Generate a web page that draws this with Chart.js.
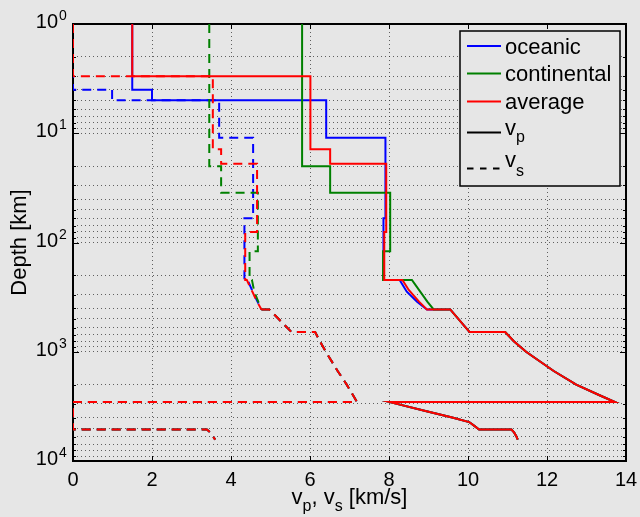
<!DOCTYPE html>
<html>
<head>
<meta charset="utf-8">
<script src="https://cdn.jsdelivr.net/npm/chart.js@4.4.1/dist/chart.umd.min.js"></script>
<style>
  html, body { margin: 0; padding: 0; background: #e6e6e6; }
  canvas { display: block; }
</style>
</head>
<body>
<canvas id="profile" width="640" height="517"></canvas>
<script>
// depth in km, velocities in km/s
const oceanicDepth = [1, 4, 4, 5, 5, 11, 11, 60, 60, 220, 220, 282, 348, 410];
const oceanicVp = [1.5, 1.5, 2.0, 2.0, 6.41, 6.41, 7.91, 7.91, 7.86, 7.86, 8.27, 8.45, 8.71, 8.96];
const oceanicVs = [0, 0, 0.99, 0.99, 3.70, 3.70, 4.56, 4.56, 4.34, 4.34, 4.42, 4.55, 4.67, 4.77];

const continentalDepth = [1, 20, 20, 35, 35, 120, 120, 220, 220, 282, 348, 410];
const continentalVp = [5.80, 5.80, 6.51, 6.51, 8.03, 8.03, 7.85, 7.85, 8.58, 8.79, 8.97, 9.13];
const continentalVs = [3.45, 3.45, 3.75, 3.75, 4.68, 4.68, 4.47, 4.47, 4.53, 4.59, 4.69, 4.77];

const averageDepth = [1, 3, 3, 14, 14, 19, 19, 80, 80, 220, 220, 272, 348, 410];
const averageVp = [1.5, 1.5, 6.01, 6.01, 6.51, 6.51, 7.93, 7.93, 7.88, 7.88, 8.34, 8.50, 8.76, 8.96];
const averageVs = [0, 0, 3.54, 3.54, 3.75, 3.75, 4.66, 4.66, 4.36, 4.36, 4.40, 4.52, 4.66, 4.77];

// shared below 410 km (mantle + core)
const deepDepth = [410, 660, 660, 800, 1000, 1500, 2000, 2500, 2891, 2891, 3000, 3500, 4000, 4400, 4800, 5150, 5150, 5500, 6000, 6371];
const deepVp = [9.55, 10.04, 10.94, 11.16, 11.47, 12.17, 12.74, 13.33, 13.72, 8.02, 8.20, 8.95, 9.60, 10.03, 10.17, 10.28, 11.10, 11.17, 11.23, 11.26];
const deepVs = [4.97, 5.53, 6.13, 6.25, 6.40, 6.70, 6.93, 7.09, 7.19, 0, 0, 0, 0, 0, 0, 0, 3.39, 3.48, 3.55, 3.60];

const modelNames = ["oceanic", "continental", "average"];
const modelColors = ["#0000ff", "#008000", "#ff0000"];

const xTicks = [0, 2, 4, 6, 8, 10, 12, 14];
const yMajor = [1, 10, 100, 1000, 10000];
const yExponents = ["0", "1", "2", "3", "4"];
const yMinorSteps = [2, 3, 4, 5, 6, 7, 8, 9];

const yGrid = [];
yMajor.forEach((m, i) => {
  yGrid.push(m);
  if (i < yMajor.length - 1) yMinorSteps.forEach(s => yGrid.push(m * s));
});

const FONT = '"Liberation Sans", Arial, Helvetica, sans-serif';
const DASH = [9, 6];

function profile(depths, speeds) {
  return depths.map((d, i) => ({x: speeds[i], y: d}));
}

const models = [
  {depth: oceanicDepth, vp: oceanicVp, vs: oceanicVs},
  {depth: continentalDepth, vp: continentalVp, vs: continentalVs},
  {depth: averageDepth, vp: averageVp, vs: averageVs}
];

const datasets = [];
models.forEach((m, i) => {
  const last = m.depth.length - 1;
  datasets.push({
    label: modelNames[i] + " vp",
    data: profile(m.depth.concat(deepDepth), m.vp.concat(deepVp)),
    borderColor: modelColors[i],
    order: 2 - i
  });
  // vs split at 410 km so the shared deep part has the same dash phase for all models
  datasets.push({
    label: modelNames[i] + " vs",
    data: profile(m.depth, m.vs),
    borderColor: modelColors[i],
    borderDash: DASH,
    order: 2 - i
  });
  datasets.push({
    label: modelNames[i] + " vs deep",
    data: profile([m.depth[last]].concat(deepDepth), [m.vs[last]].concat(deepVs)),
    borderColor: modelColors[i],
    borderDash: DASH,
    order: 2 - i
  });
});

// draws subscripted text runs: [text, size, dy]
function drawRuns(ctx, runs, x, y, align) {
  let total = 0;
  runs.forEach(r => { ctx.font = r[1] + "px " + FONT; total += ctx.measureText(r[0]).width; });
  let cx = align === "center" ? x - total / 2 : x;
  ctx.textAlign = "left";
  runs.forEach(r => {
    ctx.font = r[1] + "px " + FONT;
    ctx.fillText(r[0], cx, y + r[2]);
    cx += ctx.measureText(r[0]).width;
  });
}

const matlabAxes = {
  id: "matlabAxes",
  beforeDatasetsDraw(chart) {
    const {ctx, chartArea: a, scales: {x, y}} = chart;
    ctx.save();
    ctx.strokeStyle = "#000";
    ctx.lineWidth = 1;
    ctx.beginPath();
    xTicks.forEach(v => {
      const px = Math.round(x.getPixelForValue(v)) + 0.5;
      ctx.moveTo(px, a.bottom); ctx.lineTo(px, a.bottom - 5);
      ctx.moveTo(px, a.top); ctx.lineTo(px, a.top + 5);
    });
    yGrid.forEach(v => {
      const py = Math.round(y.getPixelForValue(v)) + 0.5;
      const len = yMajor.includes(v) ? 6 : 3;
      ctx.moveTo(a.left, py); ctx.lineTo(a.left + len, py);
      ctx.moveTo(a.right, py); ctx.lineTo(a.right - len, py);
    });
    ctx.stroke();
    ctx.lineWidth = 2;
    ctx.strokeRect(a.left, a.top, a.right - a.left, a.bottom - a.top);

    ctx.fillStyle = "#000";
    ctx.textBaseline = "alphabetic";
    ctx.font = "20px " + FONT;
    ctx.textAlign = "center";
    xTicks.forEach(v => ctx.fillText(String(v), x.getPixelForValue(v), a.bottom + 25));
    yMajor.forEach((v, i) => {
      const py = y.getPixelForValue(v);
      ctx.font = "20px " + FONT;
      ctx.textAlign = "right";
      ctx.fillText("10", a.left - 15, py + 4);
      ctx.font = "14px " + FONT;
      ctx.textAlign = "left";
      ctx.fillText(yExponents[i], a.left - 14, py - 4);
    });

    // axis titles
    drawRuns(ctx, [["v", 22, 0], ["p", 16, 7], [", v", 22, 0], ["s", 16, 7], [" [km/s]", 22, 0]],
      (a.left + a.right) / 2, 504, "center");
    ctx.save();
    ctx.translate(26, (a.top + a.bottom) / 2);
    ctx.rotate(-Math.PI / 2);
    ctx.font = "22px " + FONT;
    ctx.textAlign = "center";
    ctx.fillText("Depth [km]", 0, 0);
    ctx.restore();
    ctx.restore();
  },
  afterDraw(chart) {
    const ctx = chart.ctx;
    ctx.save();
    ctx.fillStyle = "#e6e6e6";
    ctx.fillRect(460, 31, 160, 155);
    ctx.strokeStyle = "#000";
    ctx.lineWidth = 1.5;
    ctx.strokeRect(460, 31, 160, 155);

    const rows = [46, 73.5, 101.5];
    ctx.lineWidth = 2;
    modelNames.forEach((name, i) => {
      ctx.strokeStyle = modelColors[i];
      ctx.beginPath();
      ctx.moveTo(467, rows[i]); ctx.lineTo(501, rows[i]);
      ctx.stroke();
      ctx.fillStyle = "#000";
      ctx.font = "22px " + FONT;
      ctx.textAlign = "left";
      ctx.fillText(name, 505, rows[i] + 7.5);
    });
    ctx.strokeStyle = "#000";
    ctx.beginPath();
    ctx.moveTo(467, 132.5); ctx.lineTo(501, 132.5);
    ctx.stroke();
    ctx.setLineDash([6.5, 6.5]);
    ctx.beginPath();
    ctx.moveTo(467, 168.5); ctx.lineTo(501, 168.5);
    ctx.stroke();
    ctx.setLineDash([]);
    ctx.fillStyle = "#000";
    drawRuns(ctx, [["v", 22, 0], ["p", 16, 7]], 505, 134.5, "left");
    drawRuns(ctx, [["v", 22, 0], ["s", 16, 9]], 505, 166.5, "left");
    ctx.restore();
  }
};

const gridColor = "rgba(50,50,50,0.75)";

new Chart(document.getElementById("profile").getContext("2d"), {
  type: "scatter",
  data: {datasets: datasets},
  options: {
    responsive: false,
    animation: false,
    devicePixelRatio: 1,
    layout: {padding: {left: 73, top: 24, right: 14, bottom: 56}},
    showLine: true,
    elements: {
      point: {radius: 0, hoverRadius: 0},
      line: {borderWidth: 2, tension: 0, fill: false}
    },
    plugins: {legend: {display: false}, tooltip: {enabled: false}},
    scales: {
      x: {
        type: "linear", min: 0, max: 14,
        afterBuildTicks: ax => { ax.ticks = xTicks.map(v => ({value: v})); },
        ticks: {display: false},
        grid: {color: gridColor, lineWidth: 1, drawTicks: false, borderDash: [1, 3]},
        border: {display: false, dash: [1, 3]}
      },
      y: {
        type: "logarithmic", reverse: true, min: 1, max: 10000,
        afterBuildTicks: ax => { ax.ticks = yGrid.map(v => ({value: v})); },
        ticks: {display: false},
        grid: {color: gridColor, lineWidth: 1, drawTicks: false, borderDash: [1, 3]},
        border: {display: false, dash: [1, 3]}
      }
    }
  },
  plugins: [matlabAxes]
});
</script>
</body>
</html>
